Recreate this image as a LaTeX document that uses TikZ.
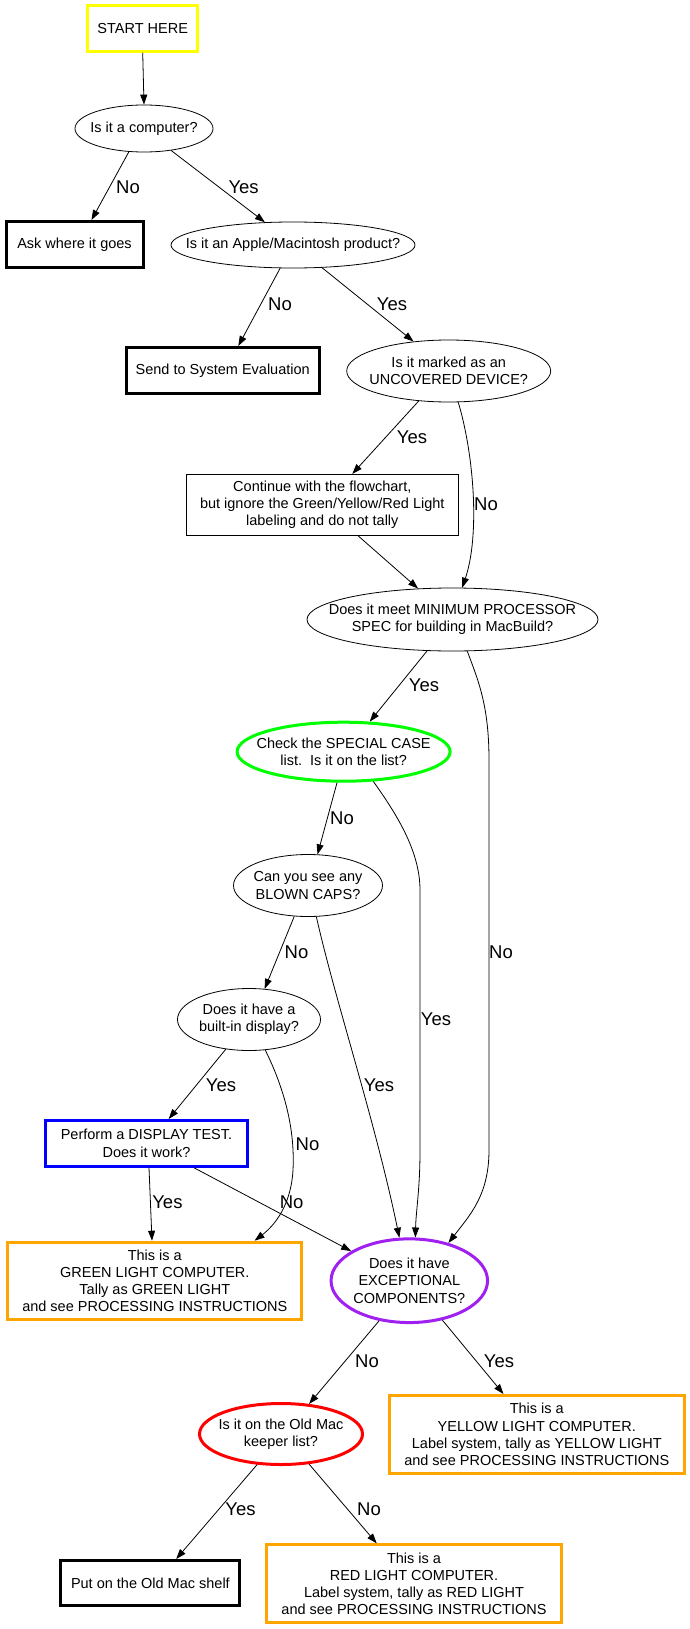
\documentclass[tikz,border=0pt]{standalone}
\usepackage{fontspec}
\setmainfont{Liberation Sans}
\usetikzlibrary{shapes.geometric,arrows.meta}
\definecolor{gvyellow}{RGB}{255,255,0}
\definecolor{gvgreen}{RGB}{0,255,0}
\definecolor{gvblue}{RGB}{0,0,255}
\definecolor{gvorange}{RGB}{255,165,0}
\definecolor{gvpurple}{RGB}{160,32,240}
\definecolor{gvred}{RGB}{255,0,0}
\tikzset{
  txt/.style={font=\fontsize{14.5}{17.2}\selectfont, align=center, inner sep=0pt},
  rbox/.style={txt, draw, rectangle, line width=#1},
  rbox/.default=3pt,
  ell/.style={draw, ellipse, inner sep=0pt, line width=#1},
  ell/.default=0.8pt,
  lbl/.style={font=\fontsize{18.5}{22}\selectfont, inner sep=0pt},
  arr/.style={line width=0.8pt, -{Triangle[length=10pt,width=7pt]}}
}
\begin{document}
\begin{tikzpicture}[x=1pt,y=-1pt]
\useasboundingbox (0,0) rectangle (689,1629);
% nodes
\node[rbox, draw=gvyellow, minimum width=110.5pt, minimum height=45.7pt] (start) at (142.7,28.4) {START HERE};
\node[ell, minimum width=138pt, minimum height=47pt, label={[txt]center:{Is it a computer?}}] (comp) at (144,128.5) {};
\node[rbox, minimum width=137pt, minimum height=46pt] (ask) at (74.5,244.5) {Ask where it goes};
\node[ell, minimum width=244pt, minimum height=46pt, label={[txt]center:{Is it an Apple/Macintosh product?}}] (apple) at (293,245) {};
\node[rbox, minimum width=193pt, minimum height=46pt] (send) at (222.7,370.5) {Send to System Evaluation};
\node[ell, minimum width=204pt, minimum height=62pt, label={[txt]center:{Is it marked as an\\UNCOVERED DEVICE?}}] (marked) at (448.7,371) {};
\node[rbox=0.8pt, minimum width=271.6pt, minimum height=61pt] (cont) at (322.3,504.8) {Continue with the flowchart,\\but ignore the Green/Yellow/Red Light\\labeling and do not tally};
\node[ell, minimum width=291pt, minimum height=63pt, label={[txt]center:{Does it meet MINIMUM PROCESSOR\\SPEC for building in MacBuild?}}] (minp) at (452.5,619.5) {};
\node[ell=3pt, draw=gvgreen, minimum width=213pt, minimum height=59pt, label={[txt]center:{Check the SPECIAL CASE\\list.\ \ Is it on the list?}}] (spec) at (343.6,751.7) {};
\node[ell, minimum width=149pt, minimum height=62pt, label={[txt]center:{Can you see any\\BLOWN CAPS?}}] (caps) at (308,885.5) {};
\node[ell, minimum width=143pt, minimum height=62pt, label={[txt]center:{Does it have a\\built-in display?}}] (disp) at (249,1019.5) {};
\node[rbox, draw=gvblue, minimum width=202pt, minimum height=45.7pt] (test) at (146.5,1143.3) {Perform a DISPLAY TEST.\\Does it work?};
\node[rbox, draw=gvorange, minimum width=294pt, minimum height=77pt] (green) at (154.8,1280.7) {This is a\\GREEN LIGHT COMPUTER.\\Tally as GREEN LIGHT\\and see PROCESSING INSTRUCTIONS};
\node[ell=3pt, draw=gvpurple, minimum width=156.5pt, minimum height=83.7pt, label={[txt]center:{Does it have\\EXCEPTIONAL\\COMPONENTS?}}] (exc) at (409.3,1280.7) {};
\node[ell=3pt, draw=gvred, minimum width=163pt, minimum height=61pt, label={[txt]center:{Is it on the Old Mac\\keeper list?}}] (keep) at (281,1434) {};
\node[rbox, draw=gvorange, minimum width=295pt, minimum height=78pt] (yellow) at (536.8,1434.5) {This is a\\YELLOW LIGHT COMPUTER.\\Label system, tally as YELLOW LIGHT\\and see PROCESSING INSTRUCTIONS};
\node[rbox, minimum width=179pt, minimum height=45pt] (shelf) at (150.4,1583) {Put on the Old Mac shelf};
\node[rbox, draw=gvorange, minimum width=294.6pt, minimum height=77.7pt] (red) at (414,1583.7) {This is a\\RED LIGHT COMPUTER.\\Label system, tally as RED LIGHT\\and see PROCESSING INSTRUCTIONS};
% edges
\draw[arr] (start.south) -- (comp.north);
\draw[arr] (comp.-123) -- ([xshift=17pt]ask.north);
\node[lbl] (l1) at (128,187) {No};
\draw[arr] (comp.-39) -- (apple.141.6);
\node[lbl] (l2) at (243.6,187) {Yes};
\draw[arr] (apple.-119.3) -- ([xshift=15.6pt]send.north);
\node[lbl] (l3) at (280,304) {No};
\draw[arr] (apple.-38.8) -- (marked.140.9);
\node[lbl] (l4) at (392,304) {Yes};
\draw[arr] (marked.-135) -- ([xshift=30pt]cont.north);
\node[lbl] (l5) at (412,437.3) {Yes};
\draw[arr] (marked.-73.3) .. controls (474,455) and (480,535) .. (minp.73.7);
\node[lbl] (l6) at (486,504) {No};
\draw[arr] ([xshift=35.7pt]cont.south) -- (minp.138.7);
\draw[arr] (minp.-129.6) -- (spec.49.6);
\node[lbl] (l7) at (424,685.7) {Yes};
\draw[arr] (minp.-65.3) .. controls (478,680) and (489,705) .. (489,760) -- (489,1150) .. controls (489,1195) and (470,1215) .. (exc.44.5);
\node[lbl] (l8) at (501,952.7) {No};
\draw[arr] (spec.-102) -- (caps.73.9);
\node[lbl] (l9) at (342,818.3) {No};
\draw[arr] (spec.-45.2) .. controls (395,812) and (420,850) .. (420,890) -- (420,1150) .. controls (420,1190) and (416,1210) .. (exc.82.5);
\node[lbl] (l10) at (436,1019) {Yes};
\draw[arr] (caps.-114.5) -- (disp.63.9);
\node[lbl] (l11) at (296.5,952.7) {No};
\draw[arr] (caps.-75.1) .. controls (335,1000) and (375,1120) .. (exc.103.6);
\node[lbl] (l12) at (379,1085.7) {Yes};
\draw[arr] (disp.-128.9) -- ([xshift=22.2pt]test.north);
\node[lbl] (l13) at (221,1085.7) {Yes};
\draw[arr] (disp.-62.6) .. controls (285,1090) and (295,1130) .. (293,1170) .. controls (291,1205) and (275,1225) .. ([xshift=99.8pt]green.north);
\node[lbl] (l14) at (307.5,1144.3) {No};
\draw[arr] ([xshift=2.5pt]test.south) -- ([xshift=-2.8pt]green.north);
\node[lbl] (l15) at (167.4,1202.3) {Yes};
\draw[arr] ([xshift=47.3pt]test.south) -- (exc.153);
\node[lbl] (l16) at (291.6,1202.3) {No};
\draw[arr] (exc.-127) -- (keep.47);
\node[lbl] (l17) at (367,1361) {No};
\draw[arr] (exc.-50.5) -- ([xshift=-33.3pt]yellow.north);
\node[lbl] (l18) at (499,1361) {Yes};
\draw[arr] (keep.-128.6) -- ([xshift=25.8pt]shelf.north);
\node[lbl] (l19) at (240.5,1509.3) {Yes};
\draw[arr] (keep.-47.2) -- ([xshift=-37.3pt]red.north);
\node[lbl] (l20) at (369,1509.3) {No};
\end{tikzpicture}
\end{document}
